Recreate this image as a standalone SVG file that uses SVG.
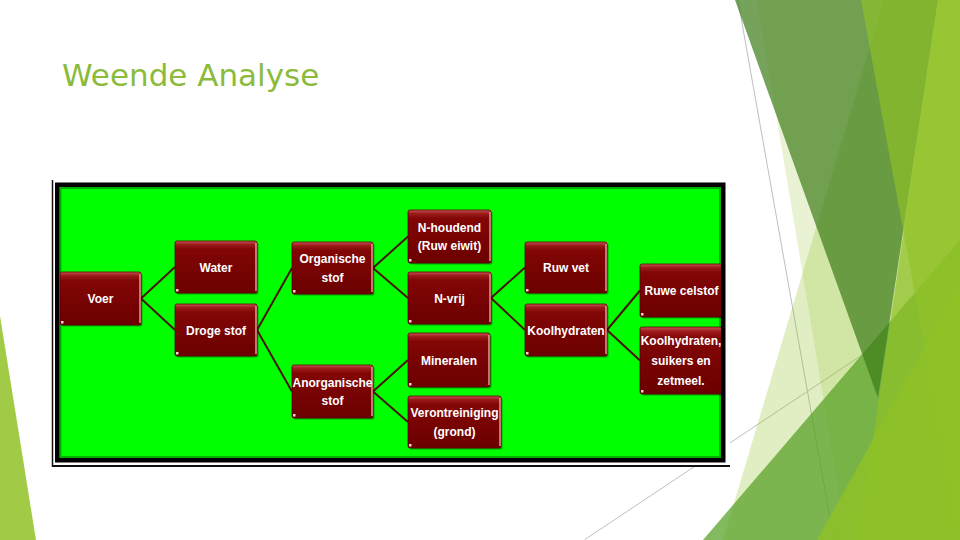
<svg xmlns="http://www.w3.org/2000/svg" width="960" height="540" viewBox="0 0 960 540">
<defs>
<style>
.deco-line{stroke:#BFBFBF;stroke-width:1;fill:none}
.acc1{fill:#90C226}
.title{font-family:"DejaVu Sans","Liberation Sans",sans-serif;font-size:31px;fill:#8CBB3B}
.box{fill:url(#boxGrad);stroke:#5a0000;stroke-width:0.8}
.shadow{fill:#000;opacity:0.35}
.edge{stroke:#e8a6a6;stroke-width:1.4;fill:none}
.dot{fill:#f4d4d4}
.t{font-family:"Liberation Sans",Arial,sans-serif;font-weight:bold;font-size:12px;fill:#ffffff;text-anchor:middle}
.conn line{stroke:#4a1508;stroke-width:2}
</style>
<linearGradient id="boxGrad" x1="0" y1="0" x2="0" y2="1">
<stop offset="0" stop-color="#c65454"/>
<stop offset="0.07" stop-color="#9c1a1a"/>
<stop offset="0.16" stop-color="#820606"/>
<stop offset="1" stop-color="#6c0000"/>
</linearGradient>
<clipPath id="greenClip"><rect x="59.5" y="187" width="661.5" height="271"/></clipPath>
</defs>
<rect x="0" y="0" width="960" height="540" fill="#ffffff"/>
<!-- background decoration -->
<line class="deco-line" x1="737.9" y1="0" x2="833.9" y2="540"/>
<line class="deco-line" x1="584.7" y1="539.6" x2="960" y2="289.9"/>
<polygon class="acc1" opacity="0.27" points="884,0 960,0 960,540 723,540"/>
<polygon class="acc1" opacity="0.2" points="757,0 960,0 960,540 847,540"/>
<polygon fill="#54A021" opacity="0.72" points="960,240 960,540 703,540"/>
<polygon fill="#3E7D1A" opacity="0.71" points="735,0 938,0 878,398"/>
<polygon class="acc1" opacity="0.65" points="861,0 960,0 960,540"/>
<polygon class="acc1" opacity="0.7" points="938,0 960,0 960,540 858,540"/>
<polygon class="acc1" opacity="0.8" points="960,283 960,540 817,540"/>
<polygon class="acc1" opacity="0.85" points="0,316 0,540 36,540"/>
<!-- title -->
<text class="title" x="62" y="86">Weende Analyse</text>
<!-- picture frame -->
<rect x="52" y="179" width="678" height="288" fill="#ffffff"/>
<line x1="52.5" y1="180" x2="52.5" y2="467" stroke="#111" stroke-width="1.5"/>
<line x1="52" y1="466" x2="730" y2="466" stroke="#111" stroke-width="2"/>
<rect x="55" y="182.5" width="670.5" height="280" fill="#000"/>
<rect x="59.5" y="187" width="661.5" height="271" fill="#00FF00"/>
<rect x="60.5" y="188" width="659.5" height="269" fill="none" stroke="#007a00" stroke-width="2" opacity="0.6"/>
<g clip-path="url(#greenClip)">
<g class="conn" id="connectors">
<line x1="141" y1="298.5" x2="175" y2="267"/>
<line x1="141" y1="298.5" x2="175" y2="330"/>
<line x1="257" y1="330" x2="292" y2="268"/>
<line x1="257" y1="330" x2="292" y2="391.5"/>
<line x1="373" y1="268" x2="408" y2="236.5"/>
<line x1="373" y1="268" x2="408" y2="298"/>
<line x1="373" y1="391.5" x2="408" y2="360"/>
<line x1="373" y1="391.5" x2="408" y2="422"/>
<line x1="491" y1="298" x2="525" y2="267.5"/>
<line x1="491" y1="298" x2="525" y2="330"/>
<line x1="607" y1="330" x2="640" y2="290.5"/>
<line x1="607" y1="330" x2="640" y2="360.5"/>
</g>
<g id="n-voer">
<rect class="shadow" x="61.5" y="273.5" width="81" height="53" rx="2"/>
<rect class="box" x="60" y="272" width="81" height="53" rx="2"/>
<line class="edge" x1="140" y1="274" x2="140" y2="323"/>
<rect class="dot" x="61" y="321" width="2.5" height="2.5"/>
<text class="t" x="100.5" y="303">Voer</text>
</g>
<g id="n-water">
<rect class="shadow" x="176.5" y="242.5" width="82" height="52" rx="2"/>
<rect class="box" x="175" y="241" width="82" height="52" rx="2"/>
<line class="edge" x1="256" y1="243" x2="256" y2="291"/>
<rect class="dot" x="176" y="289" width="2.5" height="2.5"/>
<text class="t" x="216" y="271.5">Water</text>
</g>
<g id="n-droge-stof">
<rect class="shadow" x="176.5" y="305.5" width="82" height="52" rx="2"/>
<rect class="box" x="175" y="304" width="82" height="52" rx="2"/>
<line class="edge" x1="256" y1="306" x2="256" y2="354"/>
<rect class="dot" x="176" y="352" width="2.5" height="2.5"/>
<text class="t" x="216" y="334.5">Droge stof</text>
</g>
<g id="n-organische-stof">
<rect class="shadow" x="293.5" y="243.5" width="81" height="52" rx="2"/>
<rect class="box" x="292" y="242" width="81" height="52" rx="2"/>
<line class="edge" x1="372" y1="244" x2="372" y2="292"/>
<rect class="dot" x="293" y="290" width="2.5" height="2.5"/>
<text class="t" x="332.5" y="263.4">Organische</text>
<text class="t" x="332.5" y="281.7">stof</text>
</g>
<g id="n-anorganische-stof">
<rect class="shadow" x="293.5" y="366.5" width="81" height="53" rx="2"/>
<rect class="box" x="292" y="365" width="81" height="53" rx="2"/>
<line class="edge" x1="372" y1="367" x2="372" y2="416"/>
<rect class="dot" x="293" y="414" width="2.5" height="2.5"/>
<text class="t" x="332.5" y="386.9">Anorganische</text>
<text class="t" x="332.5" y="405.2">stof</text>
</g>
<g id="n-n-houdend">
<rect class="shadow" x="409.5" y="211.5" width="83" height="53" rx="2"/>
<rect class="box" x="408" y="210" width="83" height="53" rx="2"/>
<line class="edge" x1="490" y1="212" x2="490" y2="261"/>
<rect class="dot" x="409" y="259" width="2.5" height="2.5"/>
<text class="t" x="449.5" y="231.9">N-houdend</text>
<text class="t" x="449.5" y="250.2">(Ruw eiwit)</text>
</g>
<g id="n-n-vrij">
<rect class="shadow" x="409.5" y="273.5" width="83" height="52" rx="2"/>
<rect class="box" x="408" y="272" width="83" height="52" rx="2"/>
<line class="edge" x1="490" y1="274" x2="490" y2="322"/>
<rect class="dot" x="409" y="320" width="2.5" height="2.5"/>
<text class="t" x="449.5" y="302.5">N-vrij</text>
</g>
<g id="n-mineralen">
<rect class="shadow" x="409.5" y="334.5" width="82" height="54" rx="2"/>
<rect class="box" x="408" y="333" width="82" height="54" rx="2"/>
<line class="edge" x1="489" y1="335" x2="489" y2="385"/>
<rect class="dot" x="409" y="383" width="2.5" height="2.5"/>
<text class="t" x="449" y="364.5">Mineralen</text>
</g>
<g id="n-verontreiniging">
<rect class="shadow" x="409.5" y="397.5" width="93" height="52" rx="2"/>
<rect class="box" x="408" y="396" width="93" height="52" rx="2"/>
<line class="edge" x1="500" y1="398" x2="500" y2="446"/>
<rect class="dot" x="409" y="444" width="2.5" height="2.5"/>
<text class="t" x="454.5" y="417.4">Verontreiniging</text>
<text class="t" x="454.5" y="435.7">(grond)</text>
</g>
<g id="n-ruw-vet">
<rect class="shadow" x="526.5" y="243.5" width="82" height="51" rx="2"/>
<rect class="box" x="525" y="242" width="82" height="51" rx="2"/>
<line class="edge" x1="606" y1="244" x2="606" y2="291"/>
<rect class="dot" x="526" y="289" width="2.5" height="2.5"/>
<text class="t" x="566" y="272">Ruw vet</text>
</g>
<g id="n-koolhydraten">
<rect class="shadow" x="526.5" y="305.5" width="82" height="52" rx="2"/>
<rect class="box" x="525" y="304" width="82" height="52" rx="2"/>
<line class="edge" x1="606" y1="306" x2="606" y2="354"/>
<rect class="dot" x="526" y="352" width="2.5" height="2.5"/>
<text class="t" x="566" y="334.5">Koolhydraten</text>
</g>
<g id="n-ruwe-celstof">
<rect class="shadow" x="641.5" y="265.5" width="82" height="53" rx="2"/>
<rect class="box" x="640" y="264" width="82" height="53" rx="2"/>
<rect class="dot" x="641" y="313" width="2.5" height="2.5"/>
<text class="t" x="681.5" y="295">Ruwe celstof</text>
</g>
<g id="n-koolhydraten-suikers-zetmeel">
<rect class="shadow" x="641.5" y="328.5" width="82" height="67" rx="2"/>
<rect class="box" x="640" y="327" width="82" height="67" rx="2"/>
<rect class="dot" x="641" y="390" width="2.5" height="2.5"/>
<text class="t" x="681" y="345.2">Koolhydraten,</text>
<text class="t" x="681" y="365">suikers en</text>
<text class="t" x="681" y="384.8">zetmeel.</text>
</g>
</g>
</svg>
